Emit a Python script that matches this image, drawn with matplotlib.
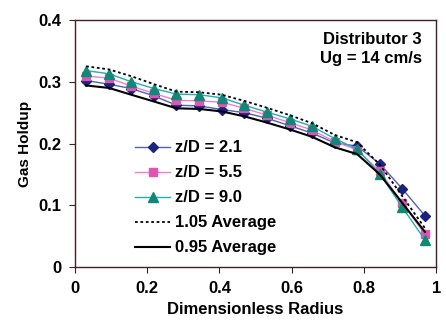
import matplotlib
matplotlib.use('Agg')
import matplotlib.pyplot as plt

plt.rcParams['font.family'] = ['Liberation Sans', 'DejaVu Sans']
plt.rcParams['font.weight'] = 'bold'

radius = [0.031, 0.094, 0.156, 0.219, 0.281, 0.344, 0.406, 0.469,
          0.531, 0.594, 0.656, 0.719, 0.781, 0.844, 0.906, 0.969]
zd_21 = [0.302, 0.296, 0.289, 0.277, 0.262, 0.261, 0.255, 0.250,
         0.241, 0.229, 0.217, 0.201, 0.196, 0.167, 0.127, 0.083]
zd_55 = [0.309, 0.306, 0.293, 0.281, 0.270, 0.269, 0.267, 0.257,
         0.246, 0.234, 0.222, 0.203, 0.190, 0.155, 0.104, 0.053]
zd_90 = [0.318, 0.313, 0.300, 0.289, 0.280, 0.279, 0.274, 0.262,
         0.251, 0.240, 0.228, 0.208, 0.191, 0.151, 0.097, 0.044]
avg_105 = [0.325, 0.320, 0.309, 0.296, 0.284, 0.283, 0.279, 0.269,
           0.258, 0.246, 0.233, 0.214, 0.202, 0.166, 0.115, 0.063]
avg_095 = [0.294, 0.290, 0.279, 0.268, 0.257, 0.256, 0.252, 0.244,
           0.234, 0.223, 0.211, 0.194, 0.183, 0.150, 0.104, 0.057]

fig = plt.figure(figsize=(4.46, 3.27), dpi=100)
ax = fig.add_axes([0.168, 0.183, 0.81, 0.756])

ax.plot(radius, zd_21, color='#5060c0', lw=1.0, marker='D', ms=5,
        mfc='#1a237e', mec='#1a237e', label='z/D = 2.1')
ax.plot(radius, zd_55, color='#f080c8', lw=1.0, marker='s', ms=6,
        mfc='#e055b0', mec='#e055b0', label='z/D = 5.5')
ax.plot(radius, zd_90, color='#20b0b0', lw=1.0, marker='^', ms=7,
        mfc='#108878', mec='#108878', label='z/D = 9.0')
ax.plot(radius, avg_105, color='black', lw=1.3, ls=(0, (1.5, 1.5)),
        label='1.05 Average')
ax.plot(radius, avg_095, color='black', lw=1.5, label='0.95 Average')

ax.set_xlim(0, 1)
ax.set_ylim(0, 0.4)
ax.set_xticks([0, 0.2, 0.4, 0.6, 0.8, 1])
ax.set_xticklabels(['0', '0.2', '0.4', '0.6', '0.8', '1'])
ax.set_yticks([0, 0.1, 0.2, 0.3, 0.4])
ax.set_yticklabels(['0', '0.1', '0.2', '0.3', '0.4'])
ax.tick_params(direction='out', length=4, labelsize=12, color='#402020', pad=6)
for s in ax.spines.values():
    s.set_color('#402020')
    s.set_linewidth(1.0)

ax.set_xlabel('Dimensionless Radius', fontsize=12, fontweight='bold')
ax.set_ylabel('Gas Holdup', fontsize=11, fontweight='bold')

ax.text(0.96, 0.95, 'Distributor 3\nUg = 14 cm/s', transform=ax.transAxes,
        ha='right', va='top', fontsize=12, fontweight='bold', linespacing=1.3)

ax.legend(loc='lower left', bbox_to_anchor=(0.135, 0.0), frameon=False,
          fontsize=12, handlelength=2.1, handletextpad=0.3, labelspacing=0.6,
          borderaxespad=0.3)

fig.savefig('out.png', dpi=100)
